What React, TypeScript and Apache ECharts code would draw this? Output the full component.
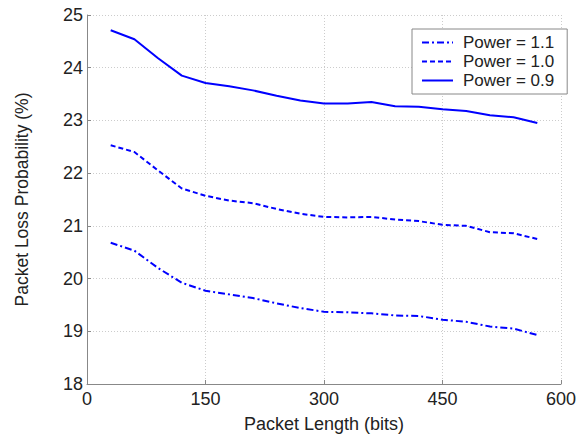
import React, { useEffect, useRef } from "react";
import * as echarts from "echarts";

const packetLength = [30, 60, 90, 120, 150, 180, 210, 240, 270, 300, 330, 360, 390, 420, 450, 480, 510, 540, 570];
const power11 = [20.68, 20.53, 20.2, 19.92, 19.77, 19.7, 19.63, 19.53, 19.44, 19.37, 19.36, 19.34, 19.3, 19.29, 19.22, 19.18, 19.09, 19.05, 18.93];
const power10 = [22.53, 22.4, 22.05, 21.71, 21.57, 21.48, 21.43, 21.32, 21.23, 21.17, 21.16, 21.17, 21.12, 21.09, 21.02, 21.0, 20.88, 20.86, 20.75];
const power09 = [24.71, 24.54, 24.18, 23.85, 23.71, 23.65, 23.57, 23.47, 23.38, 23.32, 23.32, 23.35, 23.27, 23.26, 23.21, 23.18, 23.1, 23.06, 22.95];
const seriesNames = ["Power = 1.1", "Power = 1.0", "Power = 0.9"];

const FONT = "'Liberation Sans', Arial, sans-serif";

export default function App() {
  const ref = useRef<HTMLDivElement>(null);
  useEffect(() => {
    if (!ref.current) return;
    const chart = echarts.init(ref.current, undefined, { renderer: "svg" });
    const mk = (vals: number[]) => packetLength.map((x, i) => [x, vals[i]]);
    chart.setOption({
      animation: false,
      backgroundColor: "#fff",
      grid: { left: 87, right: 19, top: 15, bottom: 51 },
      legend: {
        orient: "vertical",
        left: 412,
        top: 29,
        padding: [5, 13, 5, 9],
        itemGap: 2,
        itemWidth: 31,
        itemHeight: 17,
        backgroundColor: "#fff",
        borderColor: "#888",
        borderWidth: 1,
        borderRadius: 0,
        itemStyle: { opacity: 0 },
        textStyle: { fontFamily: FONT, fontSize: 17, color: "#222", padding: [0, 0, 0, 5] },
        data: seriesNames,
      },
      xAxis: {
        type: "value",
        min: 0,
        max: 600,
        interval: 150,
        name: "Packet Length (bits)",
        nameLocation: "middle",
        nameGap: 31,
        nameTextStyle: { fontFamily: FONT, fontSize: 18, color: "#222" },
        axisLine: { lineStyle: { color: "#888", width: 1 } },
        axisTick: { inside: true, length: 4, lineStyle: { color: "#888" } },
        axisLabel: { fontFamily: FONT, fontSize: 18, color: "#222", margin: 6 },
        splitLine: { show: true, lineStyle: { color: "#ccc", type: [1, 2] } },
      },
      yAxis: {
        type: "value",
        min: 18,
        max: 25,
        interval: 1,
        name: "Packet Loss Probability (%)",
        nameLocation: "middle",
        nameGap: 56,
        nameTextStyle: { fontFamily: FONT, fontSize: 17.5, color: "#222" },
        axisLine: { show: true, lineStyle: { color: "#888", width: 1 } },
        axisTick: { show: true, inside: true, length: 4, lineStyle: { color: "#888" } },
        axisLabel: { fontFamily: FONT, fontSize: 18, color: "#222", margin: 4 },
        splitLine: { show: true, lineStyle: { color: "#ccc", type: [1, 2] } },
      },
      series: [
        {
          name: seriesNames[0],
          type: "line",
          symbol: "none",
          data: mk(power11),
          lineStyle: { color: "#0000ff", width: 2, type: [7, 3, 2, 3] },
          itemStyle: { color: "#0000ff" },
        },
        {
          name: seriesNames[1],
          type: "line",
          symbol: "none",
          data: mk(power10),
          lineStyle: { color: "#0000ff", width: 2, type: [5, 3] },
          itemStyle: { color: "#0000ff" },
        },
        {
          name: seriesNames[2],
          type: "line",
          symbol: "none",
          data: mk(power09),
          lineStyle: { color: "#0000ff", width: 2, type: "solid" },
          itemStyle: { color: "#0000ff" },
        },
      ],
    });
    return () => chart.dispose();
  }, []);
  return <div ref={ref} style={{ width: 580, height: 438, position: "absolute", left: 0, top: 0 }} />;
}
